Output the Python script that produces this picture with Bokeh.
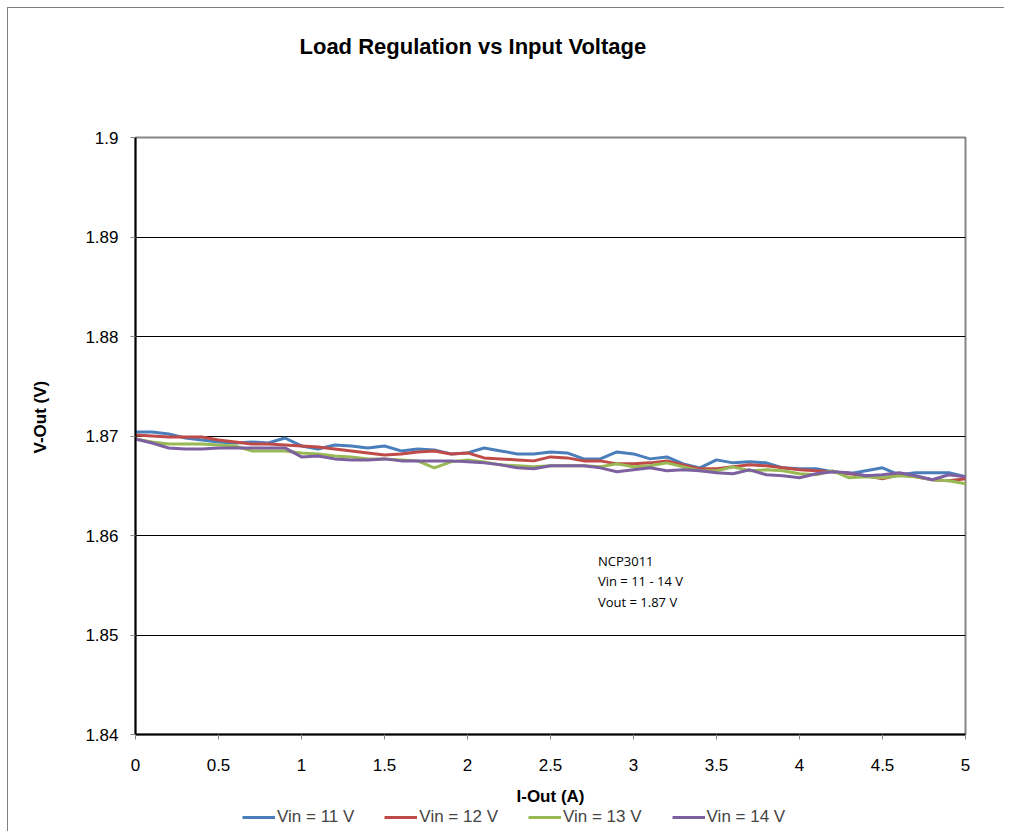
import math
from bokeh.plotting import figure
from bokeh.layouts import column
from bokeh.models import Legend, LegendItem, Title, FixedTicker, Range1d, ColumnDataSource, Label
from bokeh.embed import file_html
from bokeh.resources import INLINE

i_out = [round(0.1 * k, 1) for k in range(51)]

vin11 = [1.8704, 1.8704, 1.8702, 1.8698, 1.8696, 1.8694, 1.8693, 1.8694, 1.8693, 1.8698,
         1.8690, 1.8687, 1.8691, 1.8690, 1.8688, 1.8690, 1.8685, 1.8687, 1.8686, 1.8682,
         1.8683, 1.8688, 1.8685, 1.8682, 1.8682, 1.8684, 1.8683, 1.8677, 1.8677, 1.8684,
         1.8682, 1.8677, 1.8679, 1.8672, 1.8668, 1.8676, 1.8673, 1.8674, 1.8673, 1.8668,
         1.8667, 1.8667, 1.8664, 1.8662, 1.8665, 1.8668, 1.8661, 1.8663, 1.8663, 1.8663,
         1.8659]
vin12 = [1.8701, 1.8700, 1.8699, 1.8699, 1.8699, 1.8696, 1.8694, 1.8692, 1.8692, 1.8691,
         1.8690, 1.8689, 1.8687, 1.8685, 1.8683, 1.8681, 1.8682, 1.8684, 1.8685, 1.8682,
         1.8683, 1.8678, 1.8677, 1.8676, 1.8675, 1.8679, 1.8678, 1.8675, 1.8675, 1.8672,
         1.8672, 1.8673, 1.8675, 1.8671, 1.8667, 1.8667, 1.8669, 1.8671, 1.8670, 1.8668,
         1.8666, 1.8665, 1.8664, 1.8662, 1.8660, 1.8657, 1.8661, 1.8659, 1.8656, 1.8655,
         1.8657]
vin13 = [1.8697, 1.8694, 1.8692, 1.8692, 1.8692, 1.8691, 1.8690, 1.8685, 1.8685, 1.8685,
         1.8683, 1.8682, 1.8680, 1.8679, 1.8677, 1.8677, 1.8676, 1.8675, 1.8668, 1.8674,
         1.8676, 1.8674, 1.8671, 1.8670, 1.8669, 1.8670, 1.8670, 1.8670, 1.8669, 1.8672,
         1.8669, 1.8670, 1.8673, 1.8669, 1.8665, 1.8665, 1.8669, 1.8665, 1.8666, 1.8665,
         1.8662, 1.8661, 1.8665, 1.8658, 1.8659, 1.8658, 1.8660, 1.8659, 1.8656, 1.8655,
         1.8652]
vin14 = [1.8697, 1.8693, 1.8688, 1.8687, 1.8687, 1.8688, 1.8688, 1.8688, 1.8688, 1.8688,
         1.8679, 1.8680, 1.8677, 1.8676, 1.8676, 1.8677, 1.8675, 1.8675, 1.8675, 1.8675,
         1.8674, 1.8673, 1.8671, 1.8668, 1.8667, 1.8670, 1.8670, 1.8670, 1.8668, 1.8664,
         1.8666, 1.8668, 1.8665, 1.8666, 1.8665, 1.8663, 1.8662, 1.8666, 1.8661, 1.8660,
         1.8658, 1.8662, 1.8664, 1.8663, 1.8660, 1.8661, 1.8663, 1.8660, 1.8656, 1.8661,
         1.8659]

series_names = ["Vin = 11 V", "Vin = 12 V", "Vin = 13 V", "Vin = 14 V"]
series_values = [vin11, vin12, vin13, vin14]
series_colors = ["#4A7EBB", "#BE4B48", "#98B954", "#7D60A0"]

x_ticks = [0, 0.5, 1, 1.5, 2, 2.5, 3, 3.5, 4, 4.5, 5]
x_tick_labels = ["0", "0.5", "1", "1.5", "2", "2.5", "3", "3.5", "4", "4.5", "5"]
y_ticks = [1.84, 1.85, 1.86, 1.87, 1.88, 1.89, 1.9]
y_tick_labels = ["1.84", "1.85", "1.86", "1.87", "1.88", "1.89", "1.9"]

title_text = "Load Regulation vs Input Voltage"
x_label = "I-Out (A)"
y_label = "V-Out (V)"
note_lines = ["NCP3011", "Vin = 11  - 14 V", "Vout = 1.87 V"]

FONT = "Liberation Sans"
NB = "\u00a0"
BORDER = {"border-left": "1px solid #7f7f7f"}

p = figure(frame_width=829, frame_height=596, output_backend="svg", toolbar_location=None,
           x_range=Range1d(0, 5), y_range=Range1d(1.84, 1.9), title=None,
           min_border_left=127, min_border_top=129, min_border_right=40, min_border_bottom=74,
           background_fill_color="white", border_fill_color="white")
p.margin = (7, 0, 0, 7)
p.styles = {"border-left": "1px solid #7f7f7f", "border-top": "1px solid #7f7f7f"}

# spacer nearest the frame, then the chart title
p.add_layout(Title(text=NB, text_font_size="2px", standoff=75, text_color="white"), "above")
p.add_layout(Title(text=title_text, align="left", offset=164, standoff=0, vertical_align="bottom",
                   text_font=FONT, text_font_size="22px", text_font_style="bold",
                   text_color="black"), "above")

p.outline_line_color = "#868686"
p.outline_line_width = 2

p.xaxis.ticker = FixedTicker(ticks=x_ticks)
p.xaxis.major_label_overrides = {t: l for t, l in zip(x_ticks, x_tick_labels)}
p.yaxis.ticker = FixedTicker(ticks=y_ticks)
p.yaxis.major_label_overrides = {t: l for t, l in zip(y_ticks, y_tick_labels)}
for ax in (p.xaxis[0], p.yaxis[0]):
    ax.axis_line_color = "black"
    ax.axis_line_width = 2
    ax.major_tick_line_color = "#868686"
    ax.major_tick_in = 0
    ax.major_tick_out = 5
    ax.minor_tick_line_color = None
    ax.major_label_text_font = FONT
    ax.major_label_text_font_size = "17px"
    ax.major_label_text_color = "black"
    ax.axis_label_text_font = FONT
    ax.axis_label_text_font_size = "17px"
    ax.axis_label_text_font_style = "bold"
    ax.axis_label_text_color = "black"
p.yaxis.major_label_standoff = 12
p.xaxis.major_label_standoff = 19
p.xaxis.axis_label = x_label
p.xaxis.axis_label_standoff = 13
p.yaxis.axis_label = NB * 8 + y_label
p.yaxis.axis_label_standoff = 32

p.xgrid.grid_line_color = None
p.ygrid.ticker = FixedTicker(ticks=y_ticks)
p.ygrid.grid_line_color = "black"
p.ygrid.grid_line_width = 1

for vals, col in zip(series_values, series_colors):
    src = ColumnDataSource(dict(x=i_out, y=vals))
    p.line("x", "y", source=src, line_color=col, line_width=3, line_join="round", line_cap="round")

note_y = [1.85742, 1.85540, 1.85329]
for txt, yy in zip(note_lines, note_y):
    p.add_layout(Label(x=2.786, y=yy, text=txt, text_align="left", text_baseline="middle",
                       text_font="Open Sans", text_font_size="13px", text_color="black"))

# legend strip below the chart (same series; their lines fall outside this strip's range)
lg = figure(width=996, height=24, output_backend="svg", toolbar_location=None,
            x_range=Range1d(0, 5), y_range=Range1d(0, 1), min_border=0,
            background_fill_color="white", border_fill_color="white")
lg.margin = (0, 0, 0, 7)
lg.styles = BORDER
lg.axis.visible = False
lg.grid.visible = False
lg.outline_line_color = None
items = []
for name, vals, col in zip(series_names, series_values, series_colors):
    src = ColumnDataSource(dict(x=i_out, y=vals))
    r = lg.line("x", "y", source=src, line_color=col, line_width=3)
    items.append(LegendItem(label=name, renderers=[r]))
legend = Legend(items=items, orientation="horizontal", location=(107, 4),
                glyph_width=33, glyph_height=18, label_standoff=2, spacing=30,
                label_text_font=FONT, label_text_font_size="17px", label_height=18,
                padding=0, margin=0, border_line_color=None, background_fill_alpha=0)
lg.add_layout(legend, "center")

layout = column(p, lg, spacing=0)
open("out.html", "w").write(file_html(layout, INLINE))
